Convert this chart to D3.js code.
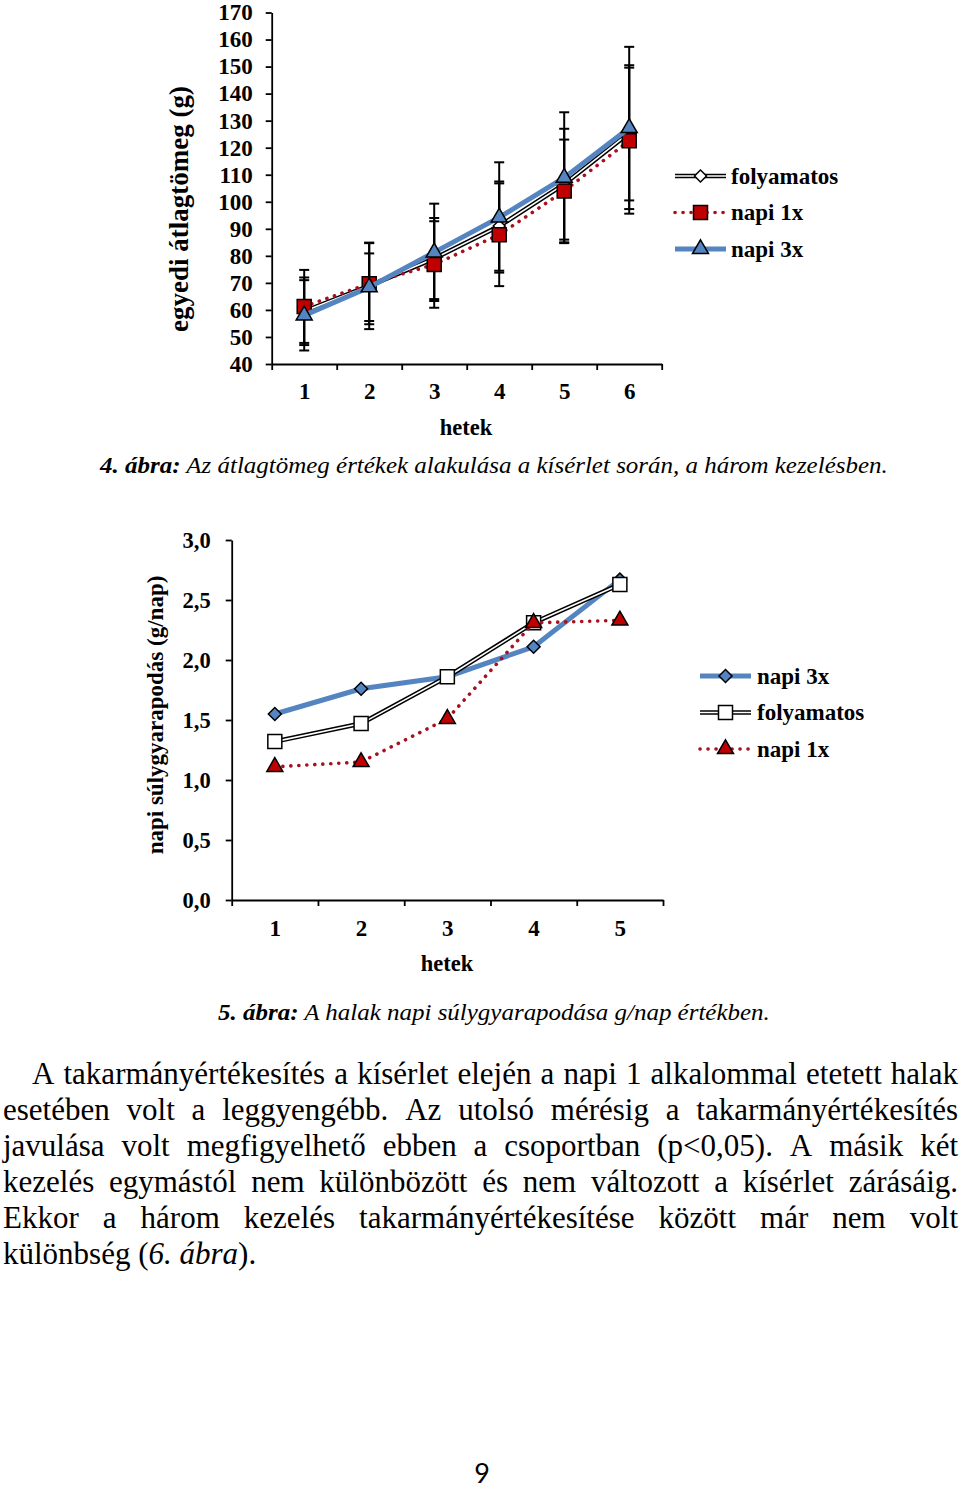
<!DOCTYPE html>
<html><head><meta charset="utf-8">
<script src="https://cdn.jsdelivr.net/npm/d3@7/dist/d3.min.js"></script>
<style>body{margin:0;background:#fff} svg{display:block}</style>
</head><body>
<svg id="page" width="960" height="1488"></svg>
<script>
// ---------- Figure 4 data ----------
const weeks1 = [1, 2, 3, 4, 5, 6];
const folyamatos1 = [59.5, 68.9, 79.0, 91.0, 106.5, 125.5];
const napi1x1 = [61.3, 69.7, 76.8, 87.8, 104.0, 122.6];
const napi3x1 = [58.0, 68.4, 81.3, 94.2, 108.9, 127.3];
const sdFolyamatos1 = [12.5, 16.0, 15.0, 16.5, 20.5, 25.0];
const sdNapi1x1 = [13.5, 15.0, 16.0, 19.0, 19.0, 27.0];
const sdNapi3x1 = [13.0, 12.5, 18.0, 20.4, 24.2, 30.0];
const yTicks1 = [40, 50, 60, 70, 80, 90, 100, 110, 120, 130, 140, 150, 160, 170];

// ---------- Figure 5 data ----------
const weeks2 = [1, 2, 3, 4, 5];
const napi3x2 = [1.55, 1.76, 1.86, 2.11, 2.67];
const folyamatos2 = [1.32, 1.47, 1.86, 2.31, 2.63];
const napi1x2 = [1.11, 1.15, 1.51, 2.31, 2.33];
const yTicks2 = [0, 0.5, 1.0, 1.5, 2.0, 2.5, 3.0];

// ---------- texts ----------
const caption4Bold = "4. ábra:";
const caption4 = " Az átlagtömeg értékek alakulása a kísérlet során, a három kezelésben.";
const caption5Bold = "5. ábra:";
const caption5 = " A halak napi súlygyarapodása g/nap értékben.";
const paragraphLines = [
  "A takarmányértékesítés a kísérlet elején a napi 1 alkalommal etetett halak",
  "esetében volt a leggyengébb. Az utolsó mérésig a takarmányértékesítés",
  "javulása volt megfigyelhető ebben a csoportban (p<0,05). A másik két",
  "kezelés egymástól nem különbözött és nem változott a kísérlet zárásáig.",
  "Ekkor a három kezelés takarmányértékesítése között már nem volt"
];

const SERIF = "'Liberation Serif','Times New Roman',serif";
const BLUE = "#5585C0", RED = "#C00000", DOTRED = "#A8101E";
const FS = 23;
const svg = d3.select("#page");

function fitText(parent, parts, x, y, target, size) {
  const g = parent.append("g");
  const t = g.append("text").attr("x", 0).attr("y", 0)
    .attr("font-family", SERIF).attr("font-size", size).attr("fill", "#000");
  parts.forEach(p => t.append("tspan").text(p.text)
    .attr("font-weight", p.bold ? "bold" : "normal")
    .attr("font-style", p.italic ? "italic" : "normal"));
  const w = t.node().getComputedTextLength();
  const s = target ? target / w : 1;
  g.attr("transform", `translate(${x},${y}) scale(${s},1)`);
  return g;
}

function marker(g, type, x, y, sz, fill) {
  let path;
  if (type === "square") path = d3.symbol().type(d3.symbolSquare).size(sz * sz)();
  else if (type === "diamond") path = d3.symbol().type(d3.symbolSquare).size(sz * sz / 2)();
  else path = d3.symbol().type(d3.symbolTriangle).size(Math.sqrt(3) / 4 * sz * sz)();
  g.append("path").attr("d", path)
    .attr("transform", `translate(${x},${y})` + (type === "diamond" ? " rotate(45)" : ""))
    .attr("fill", fill).attr("stroke", "#000").attr("stroke-width", 1.5);
}

function drawLine(g, style, pts) {
  const line = d3.line().x(d => d[0]).y(d => d[1]);
  if (style === "double") {
    g.append("path").attr("d", line(pts)).attr("fill", "none").attr("stroke", "#000").attr("stroke-width", 4.6);
    g.append("path").attr("d", line(pts)).attr("fill", "none").attr("stroke", "#fff").attr("stroke-width", 1.6);
  } else if (style === "blue") {
    g.append("path").attr("d", line(pts)).attr("fill", "none").attr("stroke", BLUE).attr("stroke-width", 5);
  } else {
    g.append("path").attr("d", line(pts)).attr("fill", "none").attr("stroke", DOTRED)
      .attr("stroke-width", 3.6).attr("stroke-linecap", "round").attr("stroke-dasharray", "0.1 7.9");
  }
}

function styleAxis(a, size) {
  a.selectAll("path.domain").attr("stroke", "#000").attr("stroke-width", 1.8);
  a.selectAll(".tick line").attr("stroke", "#000").attr("stroke-width", 1.8);
  a.selectAll("text").attr("font-family", SERIF).attr("font-weight", "bold").attr("font-size", size || FS).attr("fill", "#000");
}

// ================= Figure 4 =================
{
  const g = svg.append("g");
  const x = d3.scaleLinear().domain([0.5, 6.5]).range([271.7, 661.7]);
  const y = d3.scaleLinear().domain([40, 170]).range([364, 12.5]);

  const ya = g.append("g").attr("transform", `translate(${x.range()[0]},0)`)
    .call(d3.axisLeft(y).tickValues(yTicks1).tickSize(6).tickSizeOuter(0).tickPadding(13));
  styleAxis(ya);
  const xa = g.append("g").attr("transform", `translate(0,${y.range()[0]})`)
    .call(d3.axisBottom(x).tickValues(d3.range(0.5, 7, 1)).tickSize(6).tickSizeOuter(0).tickFormat(""));
  styleAxis(xa);
  const xl = g.append("g").attr("transform", `translate(0,${y.range()[0]})`)
    .call(d3.axisBottom(x).tickValues(weeks1).tickSize(0).tickPadding(19).tickFormat(d3.format("d")));
  xl.select("path.domain").remove();
  styleAxis(xl);

  g.append("text").attr("x", 466).attr("y", 435).attr("text-anchor", "middle")
    .attr("font-family", SERIF).attr("font-weight", "bold").attr("font-size", 22.5).text("hetek");
  g.append("text").attr("transform", "translate(188,209) rotate(-90)").attr("text-anchor", "middle")
    .attr("font-family", SERIF).attr("font-weight", "bold").attr("font-size", 27).text("egyedi átlagtömeg (g)");

  const series = [
    {v: folyamatos1, sd: sdFolyamatos1},
    {v: napi1x1, sd: sdNapi1x1},
    {v: napi3x1, sd: sdNapi3x1}
  ];
  const eb = g.append("g").attr("stroke", "#000").attr("stroke-width", 2);
  series.forEach(s => s.v.forEach((v, i) => {
    const cx = x(weeks1[i]);
    eb.append("line").attr("x1", cx).attr("x2", cx).attr("y1", y(v - s.sd[i])).attr("y2", y(v + s.sd[i]));
    [v - s.sd[i], v + s.sd[i]].forEach(e =>
      eb.append("line").attr("x1", cx - 5).attr("x2", cx + 5).attr("y1", y(e)).attr("y2", y(e)));
  }));

  const pts = arr => arr.map((v, i) => [x(weeks1[i]), y(v)]);
  drawLine(g, "double", pts(folyamatos1));
  pts(folyamatos1).forEach(p => marker(g, "diamond", p[0], p[1], 12, "#fff"));
  drawLine(g, "dot", pts(napi1x1));
  pts(napi1x1).forEach(p => marker(g, "square", p[0], p[1], 14, RED));
  drawLine(g, "blue", pts(napi3x1));
  pts(napi3x1).forEach(p => marker(g, "triangle", p[0], p[1], 16, BLUE));

  const leg = [
    {name: "folyamatos", style: "double", m: "diamond", fill: "#fff", ms: 12},
    {name: "napi 1x", style: "dot", m: "square", fill: RED, ms: 14},
    {name: "napi 3x", style: "blue", m: "triangle", fill: BLUE, ms: 16}
  ];
  leg.forEach((d, i) => {
    const ly = 176 + i * 36.5;
    drawLine(g, d.style, [[675, ly], [726, ly]]);
    marker(g, d.m, 700.5, ly, d.ms, d.fill);
    g.append("text").attr("x", 731).attr("y", ly + 7.5).attr("font-family", SERIF)
      .attr("font-weight", "bold").attr("font-size", FS).text(d.name);
  });

  fitText(svg, [{text: caption4Bold, bold: true, italic: true}, {text: caption4, italic: true}], 100, 473, 788, 24);
}

// ================= Figure 5 =================
{
  const g = svg.append("g");
  const x = d3.scaleLinear().domain([0.5, 5.5]).range([231.7, 663]);
  const y = d3.scaleLinear().domain([0, 3]).range([900, 540]);
  const fmt = d => d.toFixed(1).replace(".", ",");

  const ya = g.append("g").attr("transform", `translate(${x.range()[0]},0)`)
    .call(d3.axisLeft(y).tickValues(yTicks2).tickSize(6).tickSizeOuter(0).tickPadding(15).tickFormat(fmt));
  styleAxis(ya, 22.5);
  const xa = g.append("g").attr("transform", `translate(0,${y.range()[0]})`)
    .call(d3.axisBottom(x).tickValues(d3.range(0.5, 6, 1)).tickSize(6).tickSizeOuter(0).tickFormat(""));
  styleAxis(xa);
  const xl = g.append("g").attr("transform", `translate(0,${y.range()[0]})`)
    .call(d3.axisBottom(x).tickValues(weeks2).tickSize(0).tickPadding(20).tickFormat(d3.format("d")));
  xl.select("path.domain").remove();
  styleAxis(xl);

  g.append("text").attr("x", 447).attr("y", 971).attr("text-anchor", "middle")
    .attr("font-family", SERIF).attr("font-weight", "bold").attr("font-size", 22.5).text("hetek");
  g.append("text").attr("transform", "translate(163,715) rotate(-90)").attr("text-anchor", "middle")
    .attr("font-family", SERIF).attr("font-weight", "bold").attr("font-size", 23).text("napi súlygyarapodás (g/nap)");

  const pts = arr => arr.map((v, i) => [x(weeks2[i]), y(v)]);
  drawLine(g, "blue", pts(napi3x2));
  pts(napi3x2).forEach(p => marker(g, "diamond", p[0], p[1], 13, BLUE));
  drawLine(g, "double", pts(folyamatos2));
  pts(folyamatos2).forEach(p => marker(g, "square", p[0], p[1], 14, "#fff"));
  drawLine(g, "dot", pts(napi1x2));
  pts(napi1x2).forEach(p => marker(g, "triangle", p[0], p[1], 16, RED));

  const leg = [
    {name: "napi 3x", style: "blue", m: "diamond", fill: BLUE, ms: 13},
    {name: "folyamatos", style: "double", m: "square", fill: "#fff", ms: 14},
    {name: "napi 1x", style: "dot", m: "triangle", fill: RED, ms: 16}
  ];
  leg.forEach((d, i) => {
    const ly = 676 + i * 36.5;
    drawLine(g, d.style, [[700, ly], [751, ly]]);
    marker(g, d.m, 725.5, ly, d.ms, d.fill);
    g.append("text").attr("x", 757).attr("y", ly + 7.5).attr("font-family", SERIF)
      .attr("font-weight", "bold").attr("font-size", FS).text(d.name);
  });

  fitText(svg, [{text: caption5Bold, bold: true, italic: true}, {text: caption5, italic: true}], 218, 1020, 552, 24);
}

// ================= Paragraph =================
{
  const size = 31;
  const baselines = [1084, 1120, 1156, 1192, 1228, 1263.5];
  const right = 958;
  const tmp = svg.append("text").attr("font-family", SERIF).attr("font-size", size);
  const measure = s => { tmp.text(s); return tmp.node().getComputedTextLength(); };
  const space = measure("a a") - measure("aa");
  paragraphLines.forEach((line, li) => {
    const left = li === 0 ? 32 : 3;
    const words = line.split(" ");
    const widths = words.map(measure);
    const total = d3.sum(widths);
    let sx = 1;
    const minNeeded = total + space * 0.8 * (words.length - 1);
    if (minNeeded > right - left) sx = (right - left) / minNeeded;
    const gap = ((right - left) - total * sx) / (words.length - 1);
    let cx = left;
    const g = svg.append("g");
    words.forEach((w, i) => {
      g.append("text").attr("transform", `translate(${cx},${baselines[li]}) scale(${sx},1)`)
        .attr("font-family", SERIF).attr("font-size", size).attr("fill", "#000").text(w);
      cx += widths[i] * sx + gap;
    });
  });
  tmp.remove();
  const t = svg.append("text").attr("x", 3).attr("y", baselines[5])
    .attr("font-family", SERIF).attr("font-size", size).attr("fill", "#000");
  t.append("tspan").text("különbség (");
  t.append("tspan").attr("font-style", "italic").text("6. ábra");
  t.append("tspan").text(").");
}

// page number
svg.append("text").attr("x", 482).attr("y", 1483).attr("text-anchor", "middle")
  .attr("font-family", "Lato, 'Open Sans', sans-serif").attr("font-size", 27).attr("fill", "#000").text("9");
</script>
</body></html>
